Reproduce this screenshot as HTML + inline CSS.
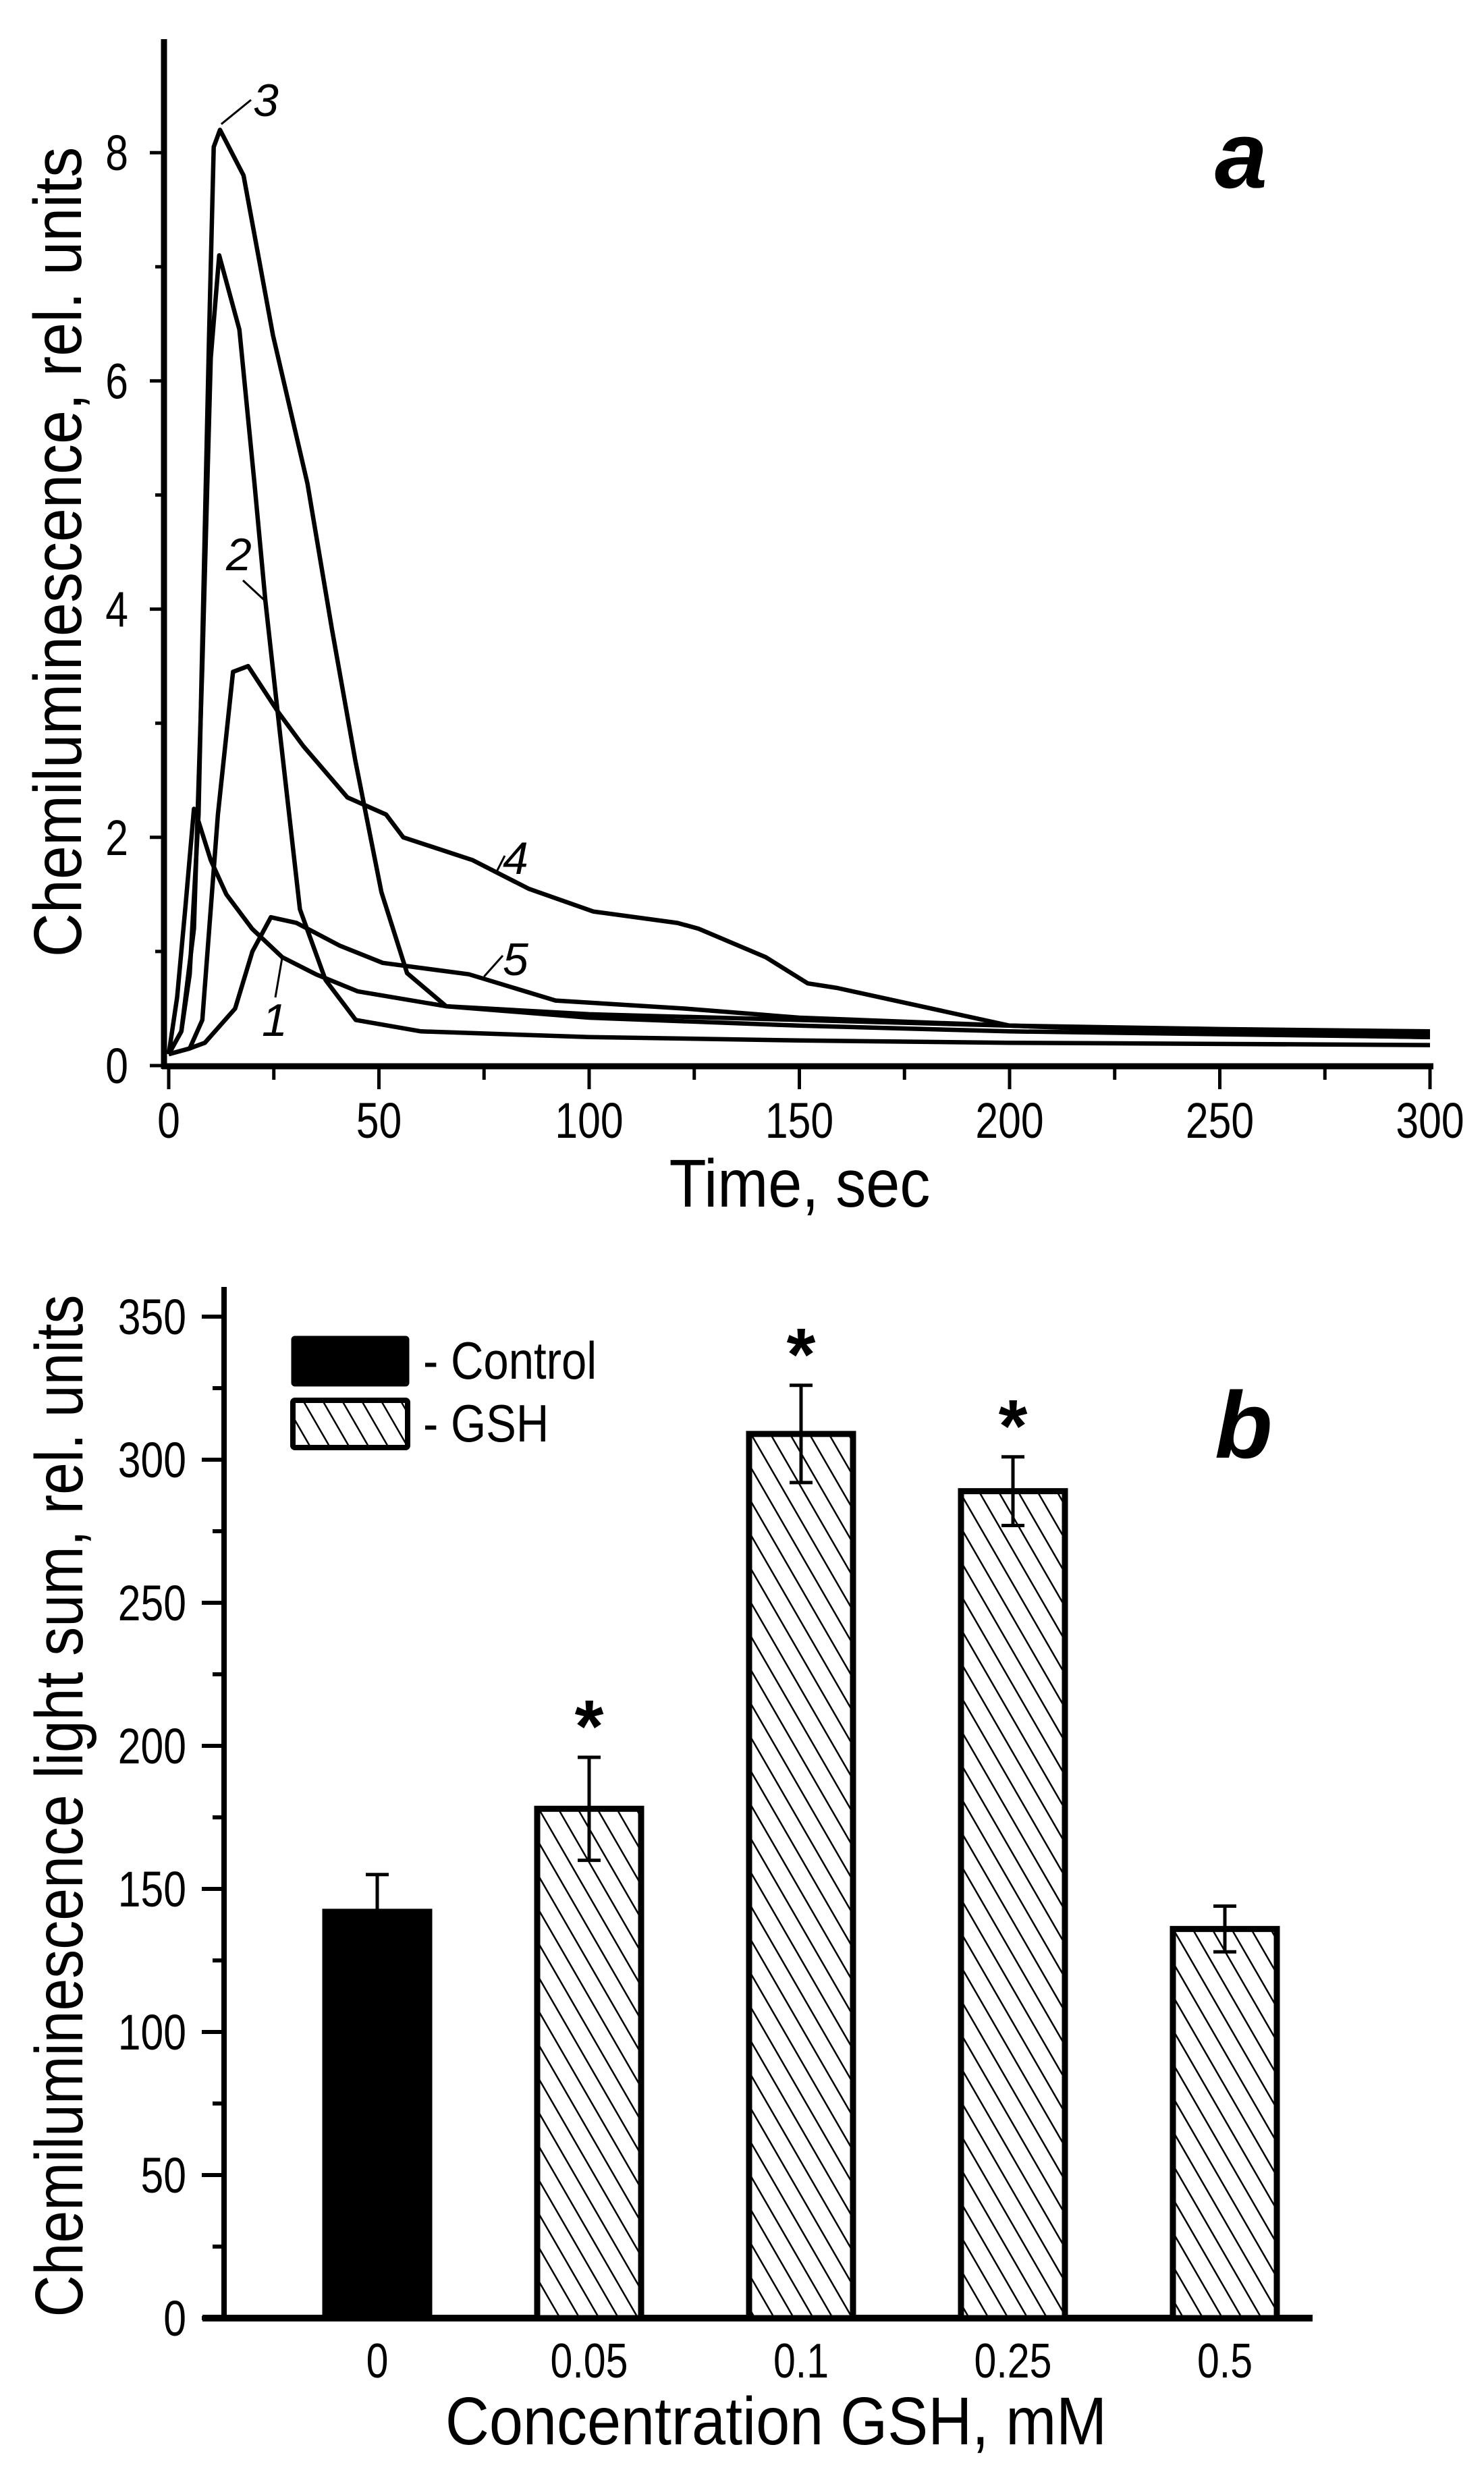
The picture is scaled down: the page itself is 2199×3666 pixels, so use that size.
<!DOCTYPE html>
<html><head><meta charset="utf-8"><style>
html,body{margin:0;padding:0;background:#fff;}
svg{display:block;font-family:"Liberation Sans",Arial,sans-serif;}
</style></head><body>
<svg id="chart" width="2199" height="3666" viewBox="0 0 2199 3666" xmlns="http://www.w3.org/2000/svg">
<defs>
<pattern id="hatch" patternUnits="userSpaceOnUse" width="25" height="25" patternTransform="rotate(-30)">
<rect width="25" height="25" fill="#fff"/>
<line x1="0" y1="0" x2="0" y2="25" stroke="#000" stroke-width="5"/>
</pattern>
</defs>
<g id="panelA"></g>
<g id="panelB"></g>
</svg>
<script>
// ---------- Panel a data ----------
const c1T = [0,2,4,6,7,10,13.7,19.8,27,35,45,66,100,150,200,250,300];
const c1V = [0.1,0.6,1.4,2.25,2.15,1.8,1.5,1.2,0.95,0.8,0.65,0.52,0.45,0.4,0.35,0.32,0.3];
const c2T = [0,3,6,8,10,12,16.8,20.4,23,26.5,31.2,37.3,44.5,60,100,150,200,300];
const c2V = [0.1,0.3,1.2,3.5,6.2,7.1,6.45,5.1,4.07,2.9,1.37,0.75,0.4,0.3,0.25,0.22,0.2,0.18];
const c3T = [0,3,5,7.1,9.6,10.7,12.2,17.8,24.8,33,38.8,44.4,50.6,56.7,66,100,150,200,300];
const c3V = [0.1,0.3,0.8,2.2,6.4,8.05,8.2,7.8,6.4,5.1,3.83,2.67,1.52,0.81,0.52,0.42,0.35,0.3,0.25];
const c4T = [0,5,8,11.7,15.3,18.9,26,32,42.5,51.7,55.8,72.3,85.6,101,121,126,142,152,159,200,250,300];
const c4V = [0.1,0.15,0.4,2.2,3.45,3.5,3.1,2.8,2.35,2.2,2.0,1.8,1.55,1.35,1.25,1.2,0.95,0.72,0.68,0.35,0.28,0.25];
const c5T = [0,5,8.6,15.8,19.9,24.3,30.4,40.7,50.9,71.4,92,122.7,150,200,250,300];
const c5V = [0.1,0.15,0.2,0.5,1.0,1.3,1.25,1.05,0.9,0.8,0.57,0.5,0.42,0.35,0.3,0.28];
const aXTicks = [0,50,100,150,200,250,300];
const aYTicks = [0,2,4,6,8];

// ---------- Panel b data ----------
const bCats = ["0","0.05","0.1","0.25","0.5"];
const bVals = [142,178,309,289,136];
const bErrs = [13,18,17,12,8];
const bStars = [false,true,true,true,false];
const bYTicks = [0,50,100,150,200,250,300,350];

const NS = "http://www.w3.org/2000/svg";
function mk(parent, tag, attrs, text){
  const e = document.createElementNS(NS, tag);
  for (const k in attrs) e.setAttribute(k, attrs[k]);
  if (text !== undefined) e.textContent = text;
  parent.appendChild(e);
  return e;
}
function txt(parent, x, y, size, anchor, s, sx, rot){
  const a = {x:0,y:0,'font-size':size,'text-anchor':anchor,
    transform:`translate(${x},${y})`+(rot?' rotate(-90)':'')+` scale(${sx||0.82},1)`};
  return mk(parent,'text',a,s);
}

// ---- Panel a ----
const A = document.getElementById('panelA');
const ax = t => 250 + t*6.23;
const ay = v => 1579 - v*169.1;
let e;
e = mk(A,'line',{x1:243,y1:58,x2:243,y2:1584,stroke:'#000','stroke-width':9});
 
e = mk(A,'line',{x1:240,y1:1580,x2:2124,y2:1580,stroke:'#000','stroke-width':9});
 
for (let t=0;t<=300;t+=25){
  const major = t%50===0;
  e = mk(A,'line',{x1:ax(t),y1:1580,x2:ax(t),y2:major?1614:1600,stroke:'#000','stroke-width':5});
   
}
aXTicks.forEach(t=>{
  e = txt(A,ax(t),1686,74,'middle',String(t));
   
});
for (let v=0;v<=8;v+=1){
  const major = v%2===0;
  e = mk(A,'line',{x1:major?222:230,y1:ay(v),x2:243,y2:ay(v),stroke:'#000','stroke-width':5});
   
}
aYTicks.forEach(v=>{
  e = txt(A,190,ay(v)+26,74,'end',String(v));
   
});
e = txt(A,1185,1788,100,'middle','Time, sec',0.9);
 
e = txt(A,120,818,100,'middle','Chemiluminescence, rel. units',0.9,true);
 
e = mk(A,'text',{x:1800,y:278,'font-size':140,'font-weight':'bold','font-style':'italic'},'a');
 

const curves = [[c1T,c1V],[c2T,c2V],[c3T,c3V],[c4T,c4V],[c5T,c5V]];
curves.forEach((c,i)=>{
  const d = c[0].map((t,j)=>(j?'L':'M')+ax(t).toFixed(1)+','+ay(c[1][j]).toFixed(1)).join(' ');
  e = mk(A,'path',{d:d,fill:'none',stroke:'#000','stroke-width':6.5,'stroke-linejoin':'round'});
   
});
const labs = [
  ['1',388,1535,ax(27),ay(0.95),408,1478],
  ['2',335,845,ax(23),ay(4.07),360,860],
  ['3',375,172,ax(12.5),ay(8.25),372,148],
  ['4',745,1295,ax(78),ay(1.7),748,1268],
  ['5',745,1445,ax(75),ay(0.78),745,1416]
];
labs.forEach(l=>{
  e = mk(A,'line',{x1:l[5],y1:l[6],x2:l[3],y2:l[4],stroke:'#000','stroke-width':3});
   
  e = mk(A,'text',{x:l[1],y:l[2],'font-size':68,'font-style':'italic'},l[0]);
   
});

// ---- Panel b ----
const B = document.getElementById('panelB');
const by = v => 3435 - v*4.24;
const bx = i => 559 + i*314;
const bw = 154;
e = mk(B,'line',{x1:332,y1:1907,x2:332,y2:3438,stroke:'#000','stroke-width':8});
 
e = mk(B,'line',{x1:300,y1:3435,x2:1945,y2:3435,stroke:'#000','stroke-width':10});
 
for (let v=0;v<=350;v+=25){
  const major = v%50===0;
  e = mk(B,'line',{x1:major?299:315,y1:by(v),x2:332,y2:by(v),stroke:'#000','stroke-width':6});
   
}
bYTicks.forEach(v=>{
  e = txt(B,276,by(v)+26,74,'end',String(v));
   
});
bCats.forEach((c,i)=>{
  e = txt(B,bx(i),3523,72,'middle',c);
   
});
bVals.forEach((v,i)=>{
  const ctrl = i===0;
  e = mk(B,'rect',{x:bx(i)-bw/2,y:by(v),width:bw,height:3435-by(v),fill:ctrl?'#000':'url(#hatch)',stroke:'#000','stroke-width':9});
   
  const top = by(v+bErrs[i]), bot = by(v-bErrs[i]);
  e = mk(B,'path',{d:`M${bx(i)},${bot} L${bx(i)},${top} M${bx(i)-17},${top} L${bx(i)+17},${top} M${bx(i)-17},${bot} L${bx(i)+17},${bot}`,stroke:'#000','stroke-width':5,fill:'none'});
   
  if (bStars[i]){
    e = mk(B,'text',{x:bx(i),y:top-8,'font-size':110,'font-weight':'bold','text-anchor':'middle'},'*');
     
  }
});
e = txt(B,1150,3622,100,'middle','Concentration GSH, mM',0.9);
 
e = txt(B,122,2676,100,'middle','Chemiluminescence light sum, rel. units',0.86,true);
 
e = mk(B,'text',{x:1800,y:2160,'font-size':140,'font-weight':'bold','font-style':'italic'},'b');
 
// legend
e = mk(B,'rect',{x:434,y:1982,width:170,height:70,fill:'#000',stroke:'#000','stroke-width':5,rx:3});
 
e = txt(B,627,2043,78,'start','- Control',0.86);
 
e = mk(B,'rect',{x:434,y:2075,width:170,height:70,fill:'url(#hatch)',stroke:'#000','stroke-width':8,rx:3});
 
e = txt(B,627,2136,78,'start','- GSH',0.86);
 
</script>
</body></html>
